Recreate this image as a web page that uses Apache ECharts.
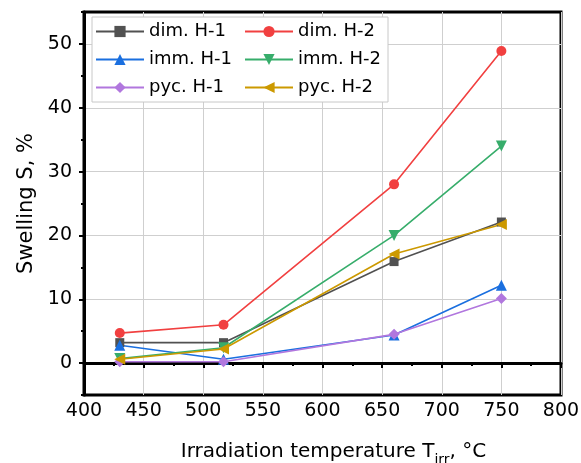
<!DOCTYPE html>
<html>
<head>
<meta charset="utf-8">
<style>
  html, body { margin: 0; padding: 0; background: #fff; }
  #chart { width: 581px; height: 463px; }
</style>
</head>
<body>
<div id="chart"></div>
<script src="https://cdn.jsdelivr.net/npm/echarts@6/dist/echarts.min.js"></script>
<script>
// irradiation temperatures, °C
var temps = [430, 517, 660, 750];

// swelling, %
var dimH1 = [3.2, 3.2, 15.9, 22.1];
var dimH2 = [4.7, 6.0, 28.0, 48.9];
var immH1 = [2.8, 0.6, 4.4, 12.2];
var immH2 = [0.7, 2.4, 20.0, 34.0];
var pycH1 = [0.2, 0.2, 4.5, 10.1];
var pycH2 = [0.6, 2.2, 17.1, 21.7];

var yMajor = [0, 10, 20, 30, 40, 50];
var yMinor = [-5, 5, 15, 25, 35, 45, 55];

var font = 'DejaVu Sans, sans-serif';

function pairs(vals) {
    return temps.map(function (t, i) { return [t, vals[i]]; });
}

function line(name, vals, color, symbol, size, rotate) {
    return {
        name: name,
        type: 'line',
        data: pairs(vals),
        symbol: symbol,
        symbolSize: size,
        symbolRotate: rotate || 0,
        lineStyle: { color: color, width: 1.6 },
        itemStyle: { color: color },
        emphasis: { disabled: true },
        z: 3
    };
}

var chart = echarts.init(document.getElementById('chart'));
chart.setOption({
    animation: false,
    textStyle: { fontFamily: font },
    grid: {
        left: 84, right: 20, top: 12, bottom: 68,
        outerBoundsMode: 'none',
        containLabel: false,
        show: true, borderColor: '#000', borderWidth: 3
    },
    legend: {
        left: 92, top: 17,
        width: 300,
        padding: [4, 2, 4, 3],
        itemWidth: 48, itemHeight: 14, itemGap: 7,
        borderColor: '#c8c8c8', borderWidth: 1,
        backgroundColor: '#fff',
        textStyle: { fontFamily: font, fontSize: 18, color: '#000', width: 88, lineHeight: 21 },
        data: ['dim. H-1', 'dim. H-2', 'imm. H-1', 'imm. H-2', 'pyc. H-1', 'pyc. H-2']
    },
    xAxis: {
        type: 'value',
        min: 400, max: 800, interval: 50,
        name: 'Irradiation temperature T{sub|irr}, °C',
        nameLocation: 'middle',
        nameGap: 45,
        nameTextStyle: {
            fontFamily: font, fontSize: 20, color: '#000', lineHeight: 24, padding: [0, 0, 0, 22],
            rich: { sub: { fontFamily: font, fontSize: 14, color: '#000', verticalAlign: 'bottom', lineHeight: 16, padding: [0, 0, -3, 0] } }
        },
        axisLine: { lineStyle: { color: '#000', width: 3 } },
        axisTick: { inside: false, length: 5, lineStyle: { color: '#000', width: 2 } },
        minorTick: { show: true, splitNumber: 2, length: 3, lineStyle: { color: '#000', width: 2 } },
        axisLabel: { fontFamily: font, fontSize: 19, color: '#000', margin: 7 },
        splitLine: { show: true, lineStyle: { color: '#cfcfcf', width: 1 } }
    },
    yAxis: [{
        type: 'value',
        min: -5, max: 55, splitNumber: 6,
        name: 'Swelling S, %',
        nameLocation: 'middle',
        nameGap: 47,
        nameTextStyle: { fontFamily: font, fontSize: 21, color: '#000' },
        axisLine: { lineStyle: { color: '#000', width: 3 } },
        axisTick: { inside: false, length: 5, customValues: yMajor, lineStyle: { color: '#000', width: 2 } },
        axisLabel: { fontFamily: font, fontSize: 19, color: '#000', margin: 12, customValues: yMajor },
        splitLine: { show: true, lineStyle: { color: '#cfcfcf', width: 1 } }
    }, {
        type: 'value',
        min: -5, max: 55,
        position: 'left',
        offset: 0,
        axisLine: { show: false },
        axisTick: { show: true, inside: false, length: 3, customValues: yMinor, lineStyle: { color: '#000', width: 2 } },
        axisLabel: { show: false },
        splitLine: { show: false }
    }],
    series: [
        line('dim. H-1', dimH1, '#515151', 'rect', 9),
        line('dim. H-2', dimH2, '#F14040', 'circle', 10),
        line('imm. H-1', immH1, '#1A6FDF', 'triangle', 11),
        line('imm. H-2', immH2, '#37AD6B', 'triangle', 11, 180),
        line('pyc. H-1', pycH1, '#B177DE', 'diamond', 11),
        line('pyc. H-2', pycH2, '#CC9900', 'triangle', 11, 90)
    ]
});
</script>
</body>
</html>
